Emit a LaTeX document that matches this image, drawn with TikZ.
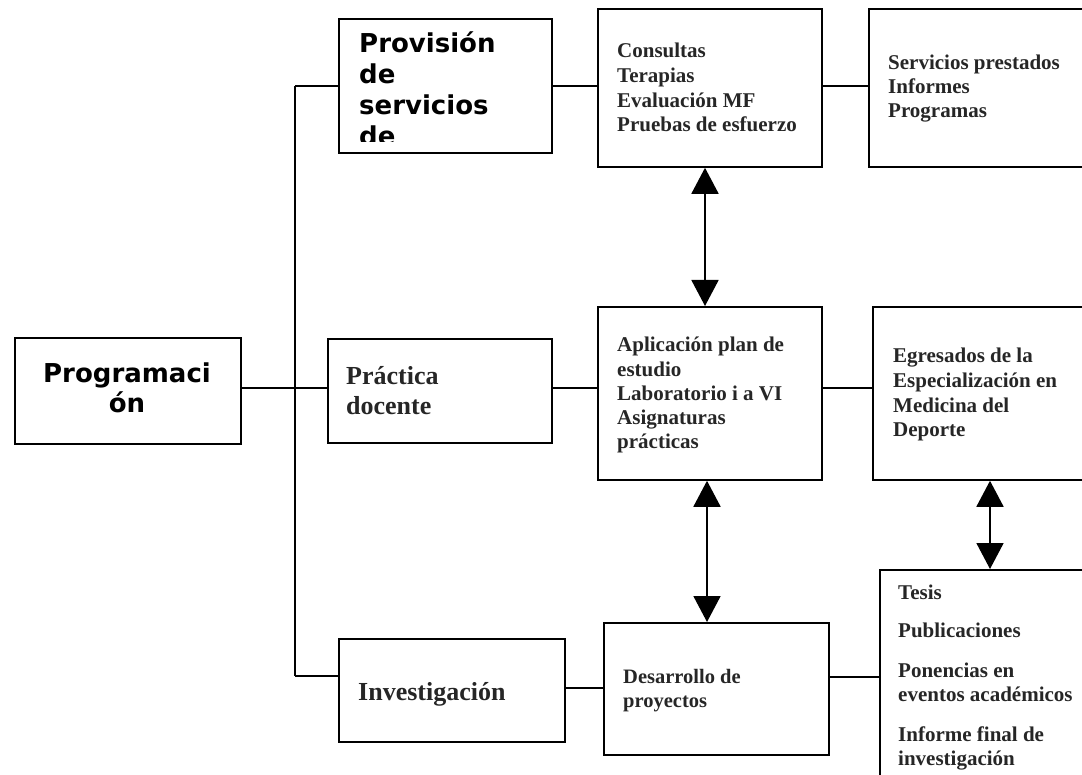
\documentclass[tikz,border=0pt]{standalone}
\usepackage{fontspec}
\usetikzlibrary{arrows.meta,calc}
\newfontfamily\tnr{Liberation Serif}
\newfontfamily\djv{DejaVu Sans}
\definecolor{txt}{HTML}{262626}
\tikzset{
  box/.style={draw=black, line width=1.8pt, rectangle, inner sep=0pt, anchor=north west},
  conn/.style={draw=black, line width=1.4pt},
  dbl/.style={draw=black, line width=1.8pt, {Triangle[width=27pt,length=26pt]}-{Triangle[width=27pt,length=26pt]}, shorten <=0pt, shorten >=0pt},
  tlab/.style={anchor=base west, inner sep=0pt, align=left, text=txt, font=\tnr\bfseries\fontsize{21}{24.5}\selectfont},
  biglab/.style={anchor=base west, inner sep=0pt, align=left, text=txt, font=\tnr\bfseries\fontsize{26}{30}\selectfont},
  sanslab/.style={inner sep=0pt, text=black, font=\djv\bfseries\fontsize{26}{30}\selectfont}
}
\begin{document}
\begin{tikzpicture}[x=1pt,y=-1pt]
\useasboundingbox (0,0) rectangle (1082,775);
\clip (0,0) rectangle (1082,775);
\fill[white] (0,0) rectangle (1082,775);

% boxes
\node[box, minimum width=226pt, minimum height=106pt] (prog) at (14,337) {};
\node[box, minimum width=213pt, minimum height=134pt] (prov) at (338,18) {};
\node[box, minimum width=224pt, minimum height=104pt] (prac) at (327,338) {};
\node[box, minimum width=226pt, minimum height=103pt] (inv) at (338,638) {};
\node[box, minimum width=224pt, minimum height=158pt] (cons) at (597,8) {};
\node[box, minimum width=224pt, minimum height=173pt] (apl) at (597,306) {};
\node[box, minimum width=225pt, minimum height=132pt] (des) at (603,622) {};
\node[box, minimum width=240pt, minimum height=158pt] (serv) at (868,8) {};
\node[box, minimum width=240pt, minimum height=173pt] (egr) at (872,306) {};
\node[box, minimum width=240pt, minimum height=240pt] (tes) at (879,569) {};

% trunk coordinates
\coordinate (ttop) at (295,86);
\coordinate (tmid) at (295,388);
\coordinate (tbot) at (295,676);

% connectors
\draw[conn] (ttop) -- (tbot);
\draw[conn] (prog.east |- tmid) -- (tmid);
\draw[conn] (ttop) -- (prov.west |- ttop);
\draw[conn] (tmid) -- (prac.west |- tmid);
\draw[conn] (tbot) -- (inv.west |- tbot);
\draw[conn] (prov.east |- ttop) -- (cons.west |- ttop);
\draw[conn] (cons.east |- ttop) -- (serv.west |- ttop);
\draw[conn] (prac.east |- tmid) -- (apl.west |- tmid);
\draw[conn] (apl.east |- tmid) -- (egr.west |- tmid);
\coordinate (ilev) at (0,688);
\draw[conn] (inv.east |- ilev) -- (des.west |- ilev);
\coordinate (dlev) at (0,677);
\draw[conn] (des.east |- dlev) -- (tes.west |- dlev);

% double arrows
\coordinate (a1) at (705,0);
\coordinate (a2) at (707,0);
\coordinate (a3) at (990,0);
\draw[dbl] (cons.south -| a1) -- (apl.north -| a1);
\draw[dbl] (apl.south -| a2) -- (des.north -| a2);
\draw[dbl] (egr.south -| a3) -- (tes.north -| a3);

% texts (anchored at the baseline of their last line)
\node[sanslab, align=center, anchor=base] (tprog) at (127,413) {Programaci\\ón};
\begin{scope}
\clip (338,18) rectangle (551,142);
\node[sanslab, align=left, anchor=base west, font=\djv\bfseries\fontsize{26}{31}\selectfont] (tprov) at (359,146) {Provisión\\de\\servicios\\de};
\end{scope}
\node[biglab] (tprac) at (346,415) {Práctica\\docente};
\node[biglab] (tinv) at (358,700) {Investigación};
\node[tlab, font=\tnr\bfseries\fontsize{21}{24.7}\selectfont] (tcons) at (617,132) {Consultas\\Terapias\\Evaluación MF\\Pruebas de esfuerzo};
\node[tlab, font=\tnr\bfseries\fontsize{21}{24}\selectfont] (tserv) at (888,118) {Servicios prestados\\Informes\\Programas};
\node[tlab, font=\tnr\bfseries\fontsize{21}{24.25}\selectfont] (tapl) at (617,449) {Aplicación plan de\\estudio\\Laboratorio i a VI\\Asignaturas\\prácticas};
\node[tlab, font=\tnr\bfseries\fontsize{21}{24.7}\selectfont] (tegr) at (893,437) {Egresados de la\\Especialización en\\Medicina del\\Deporte};
\node[tlab, font=\tnr\bfseries\fontsize{20.5}{24}\selectfont] (tdes) at (623,707) {Desarrollo de\\proyectos};
\node[tlab, font=\tnr\bfseries\fontsize{21}{24}\selectfont] (ttes) at (898,765) {Tesis\\[14pt]Publicaciones\\[16pt]Ponencias en\\eventos académicos\\[16pt]Informe final de\\investigación};
\end{tikzpicture}
\end{document}
